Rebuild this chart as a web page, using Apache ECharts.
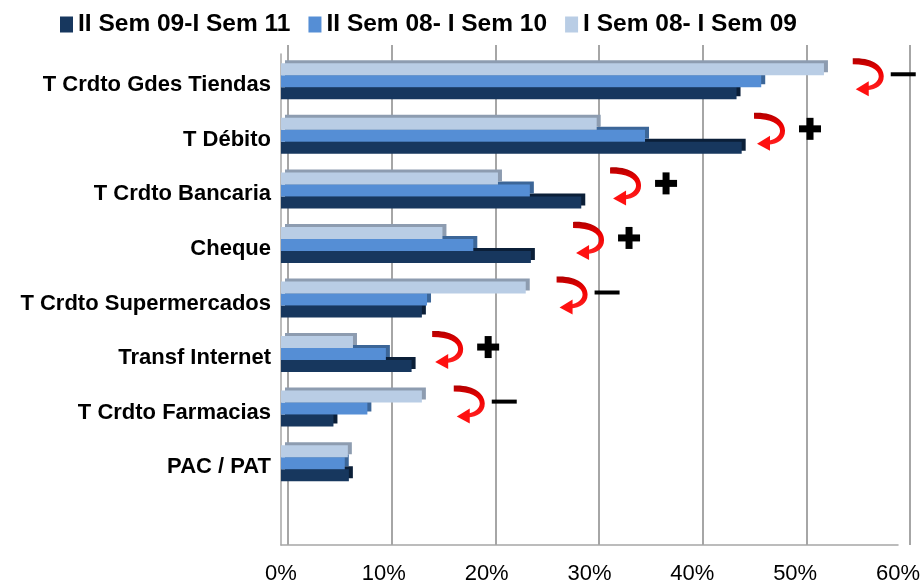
<!DOCTYPE html>
<html>
<head>
<meta charset="utf-8">
<script src="https://cdn.jsdelivr.net/npm/echarts@6/dist/echarts.min.js"></script>
<style>
  html, body { margin: 0; padding: 0; background: #fff; }
  #chart { width: 923px; height: 585px; }
</style>
</head>
<body>
<div id="chart"></div>
<script>
// categorias (de arriba hacia abajo)
var categorias = ['T Crdto Gdes Tiendas', 'T Débito', 'T Crdto Bancaria', 'Cheque',
                  'T Crdto Supermercados', 'Transf Internet', 'T Crdto Farmacias', 'PAC / PAT'];
var serie1 = [52.8, 30.7, 21.1, 15.7, 23.8, 7.0, 13.7, 6.5];   // I Sem 08- I Sem 09
var serie2 = [46.7, 35.4, 24.2, 18.7, 14.2, 10.2, 8.4, 6.2];   // II Sem 08- I Sem 10
var serie3 = [44.3, 44.8, 29.2, 24.3, 13.7, 12.7, 5.1, 6.6];   // II Sem 09-I Sem 11
var nombres = ['I Sem 08- I Sem 09', 'II Sem 08- I Sem 10', 'II Sem 09-I Sem 11'];
var ticksX = [0, 10, 20, 30, 40, 50, 60];
// flechas de tendencia: posicion (en %) y signo
var flechaX = [55.6, 46.0, 32.0, 28.4, 26.8, 14.7, 16.8];
var signos = ['-', '+', '+', '+', '-', '+', '-'];

var fuente = '"Liberation Sans", Arial, sans-serif';
var cats = categorias.concat(['']);  // espacio vacio al fondo (piso 3D)

var colores = ['#b9cde5', '#558ed5', '#17375e'];
var sombras = ['#8d9cb0', '#3c6698', '#0b1f38'];

function serieBarra(i, datos) {
  return {
    name: nombres[i], type: 'bar', data: datos,
    xAxisIndex: 0, yAxisIndex: 0,
    barWidth: 12, barGap: '0%', z: 5 - i,
    itemStyle: { color: colores[i], shadowColor: sombras[i], shadowBlur: 0,
                 shadowOffsetX: 4, shadowOffsetY: -3 },
    emphasis: { disabled: true }, silent: true
  };
}

var anot = flechaX.map(function (v, i) { return [v, i, signos[i]]; });

function dibujaFlecha(params, api) {
  var p = api.coord([api.value(0), api.value(1)]);
  var x = p[0], y = p[1] - 23;
  var rojo = new echarts.graphic.LinearGradient(0, 0, 0, 1, [
    { offset: 0, color: '#b00000' }, { offset: 0.4, color: '#f00000' }, { offset: 1, color: '#ff2020' }]);
  var hijos = [
    { type: 'path', x: x, y: y,
      shape: { pathData: 'M0,0 C20,-1 31,8 31,18 C31,27 24,31 14,32 L14,28 C21,27 26,23 26,18 C26,11 17,6 0,6 Z' },
      style: { fill: rojo } },
    { type: 'polygon', x: x, y: y,
      shape: { points: [[16, 23], [16, 38], [3, 31]] },
      style: { fill: '#ff1010' } }
  ];
  var sy = y + 16;
  if (signos[params.dataIndex] === '+') {
    var sx = x + 56;
    hijos.push({ type: 'rect', shape: { x: sx - 11, y: sy - 3.5, width: 22, height: 7 }, style: { fill: '#000' } });
    hijos.push({ type: 'rect', shape: { x: sx - 3.5, y: sy - 11, width: 7, height: 22 }, style: { fill: '#000' } });
  } else {
    var mx = x + 50;
    hijos.push({ type: 'rect', shape: { x: mx - 12, y: sy - 2, width: 25, height: 4 }, style: { fill: '#000' } });
  }
  return { type: 'group', children: hijos };
}

var myChart = echarts.init(document.getElementById('chart'));
var option = {
  animation: false,
  backgroundColor: '#fff',
  legend: {
    data: [nombres[2], nombres[1], nombres[0]],
    left: 55, top: 7, itemWidth: 13, itemHeight: 16, itemGap: 18,
    icon: 'rect',
    textStyle: { fontFamily: fuente, fontWeight: 'bold', fontSize: 24.5, color: '#000' }
  },
  grid: [
    { left: 281, right: 22, top: 54, bottom: 36 },   // frente: barras
    { left: 288, right: 13, top: 45, bottom: 40 }    // pared de fondo: lineas
  ],
  xAxis: [
    { gridIndex: 0, type: 'value', min: 0, max: 60, interval: 10,
      axisLine: { show: true, lineStyle: { color: '#a6a6a6', width: 1.5 } },
      axisTick: { show: false }, splitLine: { show: false },
      axisLabel: { formatter: '{value}%', margin: 18, fontFamily: fuente, fontSize: 22, color: '#000',
                   customValues: ticksX } },
    { gridIndex: 1, type: 'value', min: 0, max: 60, interval: 10,
      axisLine: { show: false }, axisTick: { show: false }, axisLabel: { show: false },
      splitLine: { show: true, lineStyle: { color: '#a6a6a6', width: 2 } } }
  ],
  yAxis: [
    { gridIndex: 0, type: 'category', data: cats, inverse: true,
      axisLine: { show: true, lineStyle: { color: '#a6a6a6', width: 1.5 } },
      axisTick: { show: false }, splitLine: { show: false },
      axisLabel: { margin: 10, color: '#000',
                   formatter: function (v) { return v ? '{c|' + v + '}' : ''; },
                   rich: { c: { fontFamily: fuente, fontWeight: 'bold', fontSize: 22, color: '#000',
                                padding: [8, 0, 0, 0] } } } },
    { gridIndex: 1, type: 'value', show: false }
  ],
  series: [
    serieBarra(0, serie1),
    serieBarra(1, serie2),
    serieBarra(2, serie3),
    { type: 'custom', xAxisIndex: 0, yAxisIndex: 0, data: anot, z: 10,
      renderItem: dibujaFlecha, silent: true }
  ]
};
myChart.setOption(option);
window.addEventListener('resize', function () { myChart.resize(); });
</script>
</body>
</html>
